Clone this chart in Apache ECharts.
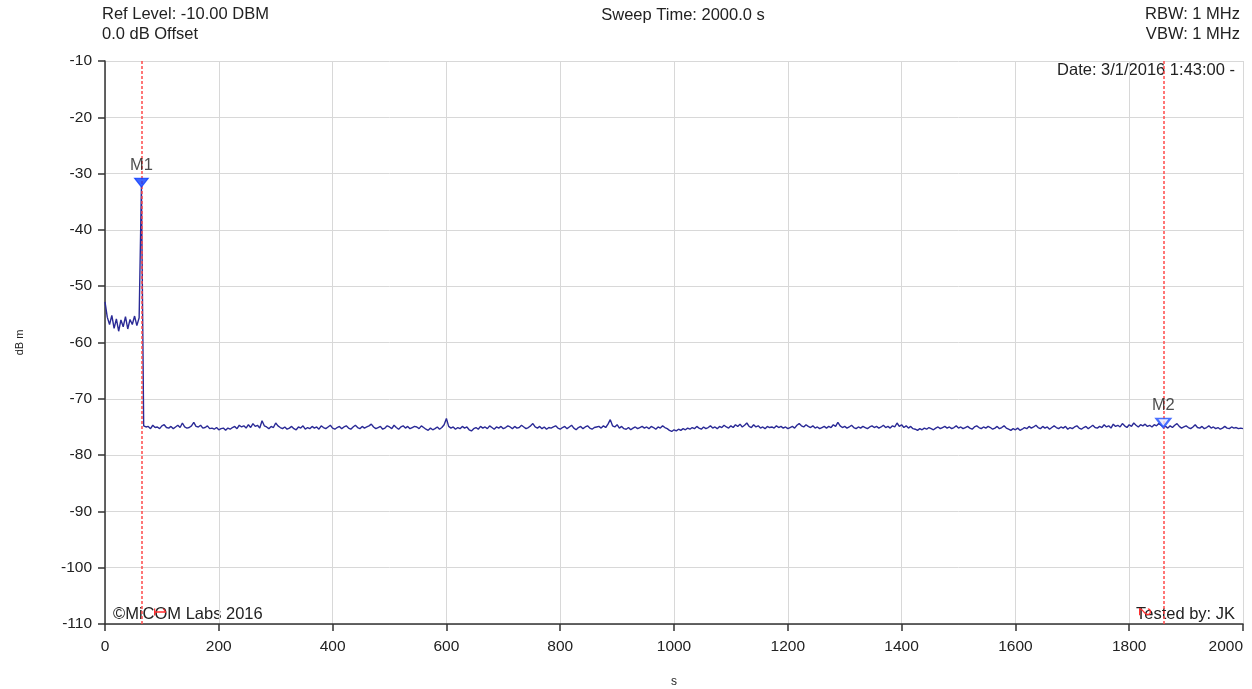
<!DOCTYPE html>
<html>
<head>
<meta charset="utf-8">
<script src="https://cdn.jsdelivr.net/npm/echarts@6/dist/echarts.min.js"></script>
<style>
html,body{margin:0;padding:0;background:#fff;overflow:hidden;}
#chart{width:1252px;height:689px;}
</style>
</head>
<body>
<div id="chart"></div>
<script>
// ---- data ----
const sweepTime = 2000;          // s
const stepSeconds = 4;           // sweep sample spacing (501 points)
const xTicks = [0,200,400,600,800,1000,1200,1400,1600,1800,2000];
const yTicks = [-10,-20,-30,-40,-50,-60,-70,-80,-90,-100,-110];

// trace level (dBm), one value per sweep point
const preSpike = [-52.8,-55.5,-56.8,-55.2,-57.5,-55.8,-58.0,-56.0,-57.2,-55.4,-57.6,-55.9,-56.8,-55.3,-57.0,-55.6];
const spike = [-32.3];
const floorLevels = [
-74.8,-75.0,-74.9,-75.3,-74.7,-75.1,-75.0,-75.3,-74.8,-74.6,-75.1,-75.2,-74.9,-75.3,-75.0,-74.7,-75.1,-74.3,-75.0,-75.2,
-75.1,-74.8,-74.2,-74.9,-75.0,-74.7,-75.2,-75.1,-74.8,-75.3,-75.2,-75.4,-75.1,-75.5,-75.3,-75.2,-75.6,-75.2,-75.4,-75.1,
-74.9,-75.3,-74.7,-75.0,-74.8,-75.2,-74.6,-75.1,-74.4,-74.9,-74.7,-75.2,-73.9,-74.8,-75.0,-75.3,-74.9,-75.1,-74.3,-74.8,
-75.1,-75.3,-75.0,-75.4,-75.2,-74.9,-75.3,-75.5,-75.0,-75.2,-74.8,-75.4,-75.1,-75.3,-74.9,-75.2,-75.0,-75.4,-74.8,-75.1,
-75.3,-75.0,-74.7,-75.2,-75.4,-75.1,-74.9,-75.3,-75.0,-74.8,-75.2,-75.4,-75.0,-74.7,-75.1,-75.3,-74.9,-75.2,-75.0,-74.8,
-74.5,-75.0,-75.3,-75.1,-74.9,-75.4,-75.2,-74.8,-75.0,-75.3,-74.7,-75.1,-75.4,-75.0,-74.8,-75.2,-74.9,-75.3,-75.1,-74.9,
-75.0,-75.3,-74.8,-75.1,-75.4,-75.6,-75.2,-75.5,-75.3,-75.0,-75.4,-75.1,-74.6,-73.5,-74.9,-75.2,-75.0,-75.4,-75.1,-75.3,
-74.9,-75.2,-75.0,-75.5,-75.7,-75.3,-75.1,-75.4,-74.9,-75.2,-75.0,-75.3,-74.8,-75.1,-75.4,-75.0,-75.2,-74.9,-75.3,-75.1,
-74.8,-75.0,-75.3,-74.9,-75.2,-75.1,-74.7,-75.0,-75.3,-75.1,-74.8,-74.4,-75.0,-75.2,-74.9,-75.3,-75.0,-75.4,-75.1,-75.2,
-75.0,-74.8,-75.2,-75.4,-75.1,-74.9,-75.3,-75.0,-74.7,-75.2,-75.5,-75.1,-74.9,-75.3,-75.0,-74.8,-75.2,-75.4,-75.1,-75.0,
-74.9,-75.2,-74.8,-75.1,-74.5,-73.7,-74.8,-75.0,-74.6,-75.2,-74.9,-75.3,-75.4,-75.1,-75.5,-75.2,-75.0,-75.3,-75.1,-74.9,
-75.2,-75.0,-75.3,-74.9,-75.1,-75.4,-75.0,-75.2,-74.8,-75.1,-75.3,-75.6,-75.8,-75.5,-75.7,-75.4,-75.6,-75.3,-75.5,-75.2,
-75.4,-75.1,-75.3,-74.9,-75.2,-75.4,-75.0,-75.3,-75.1,-74.8,-75.2,-75.0,-75.3,-74.9,-75.1,-74.7,-75.0,-75.2,-74.8,-75.1,
-74.6,-74.9,-74.5,-75.0,-74.7,-74.3,-74.9,-75.1,-74.6,-75.0,-74.8,-75.2,-75.0,-75.3,-74.9,-75.1,-75.0,-75.2,-74.8,-75.1,
-74.9,-75.2,-75.0,-75.3,-75.1,-74.9,-75.2,-74.7,-74.4,-74.8,-75.0,-74.6,-74.9,-75.1,-74.8,-75.2,-75.0,-75.3,-75.1,-74.9,
-75.2,-74.9,-75.1,-74.6,-74.9,-74.2,-74.8,-75.1,-74.9,-75.2,-75.0,-74.7,-75.1,-75.3,-75.0,-75.2,-74.9,-75.1,-75.3,-75.0,
-74.8,-75.1,-74.9,-75.2,-75.0,-74.7,-75.1,-74.9,-75.2,-74.8,-75.0,-74.3,-74.9,-74.6,-75.1,-74.8,-75.2,-74.9,-75.3,-75.4,
-75.6,-75.3,-75.5,-75.2,-75.4,-75.1,-75.3,-75.5,-75.2,-75.0,-75.3,-75.1,-74.9,-75.2,-75.0,-75.3,-75.1,-74.8,-75.2,-75.0,
-75.3,-75.1,-74.9,-75.2,-75.4,-75.0,-74.8,-75.1,-75.3,-75.0,-75.2,-74.9,-75.1,-75.4,-75.2,-74.9,-75.3,-75.1,-74.8,-75.2,
-75.4,-75.6,-75.3,-75.5,-75.2,-75.6,-75.4,-75.1,-75.3,-74.9,-75.2,-75.0,-74.7,-75.1,-75.3,-74.9,-75.2,-75.0,-75.4,-75.1,
-74.8,-75.1,-75.3,-75.0,-75.2,-74.9,-75.4,-75.1,-75.3,-75.0,-74.8,-75.2,-75.4,-75.1,-74.9,-75.3,-75.0,-74.7,-75.1,-75.2,
-74.9,-75.1,-74.6,-75.0,-74.8,-75.2,-74.5,-74.9,-74.7,-75.0,-74.4,-74.8,-75.1,-74.6,-74.9,-74.3,-74.7,-75.0,-74.6,-74.8,
-74.5,-74.9,-74.7,-75.0,-74.6,-74.8,-74.4,-74.7,-75.0,-74.9,-75.2,-74.8,-75.1,-74.7,-74.4,-74.9,-75.2,-75.0,-74.8,-75.1,
-75.3,-75.0,-74.6,-75.1,-75.2,-74.9,-75.3,-75.1,-74.8,-75.2,-75.0,-75.3,-75.1,-75.4,-75.2,-74.9,-75.2,-75.3,-75.0,-75.2,
-75.1,-75.3,-75.2,-75.3
];

// markers
const markerNames = ['M1','M2'];
const markerTimes = [64, 1860];
const markerValues = [-32.3, -75.0];
const markerLineLabels = ['1','2'];

// header / footer texts
const refLevelText = 'Ref Level: -10.00 DBM';
const offsetText = '0.0 dB Offset';
const sweepText = 'Sweep Time: 2000.0 s';
const rbwText = 'RBW: 1 MHz';
const vbwText = 'VBW: 1 MHz';
const dateText = 'Date: 3/1/2016 1:43:00 -';
const copyrightText = '\u00A9MiCOM Labs 2016';
const testedText = 'Tested by: JK';

// ---- build ----
const levels = preSpike.concat(spike, floorLevels);
const trace = levels.map((v, i) => [i * stepSeconds, v]);
const FONT = '"Liberation Sans", Arial, sans-serif';
const TXT = '16.5px ' + FONT;

const chart = echarts.init(document.getElementById('chart'), null, {renderer: 'canvas'});

const option = {
  animation: false,
  backgroundColor: '#ffffff',
  grid: {left: 105, right: 9, top: 61, bottom: 65, containLabel: false, outerBoundsMode: 'none'},
  xAxis: {
    type: 'value', min: 0, max: sweepTime, interval: 200,
    name: 's', nameLocation: 'middle', nameGap: 52,
    nameTextStyle: {fontFamily: FONT, fontSize: 12, color: '#222'},
    axisLine: {show: true, onZero: false, lineStyle: {color: '#333', width: 1.5}},
    axisTick: {show: true, length: 7, lineStyle: {color: '#333', width: 1.5}},
    axisLabel: {fontFamily: FONT, fontSize: 15.5, color: '#222', margin: 15, alignMaxLabel: 'right',
      formatter: v => xTicks.includes(v) ? String(v) : ''},
    splitLine: {show: true, lineStyle: {color: '#d8d8d8', width: 1}}
  },
  yAxis: {
    type: 'value', min: -110, max: -10, interval: 10,
    name: 'dB m', nameLocation: 'middle', nameRotate: 90, nameGap: 80,
    nameTextStyle: {fontFamily: FONT, fontSize: 11, color: '#222'},
    axisLine: {show: true, onZero: false, lineStyle: {color: '#333', width: 1.5}},
    axisTick: {show: true, length: 7, lineStyle: {color: '#333', width: 1.5}},
    axisLabel: {fontFamily: FONT, fontSize: 15.5, color: '#222', margin: 13,
      formatter: v => yTicks.includes(v) ? String(v) : ''},
    splitLine: {show: true, lineStyle: {color: '#d8d8d8', width: 1}}
  },
  series: [
    {
      type: 'line',
      data: trace,
      showSymbol: false,
      symbol: 'none',
      lineStyle: {color: '#2a2a96', width: 1.4},
      z: 3,
      markLine: {
        silent: true,
        symbol: ['none', 'none'],
        label: {show: false},
        emphasis: {disabled: true},
        lineStyle: {color: '#ff4a4a', type: [3, 2], width: 1.5, opacity: 1},
        data: markerTimes.map(t => ({xAxis: t}))
      }
    },
    {
      type: 'scatter',
      data: markerTimes.map((t, i) => ({
        value: [t, markerValues[i]],
        name: markerNames[i],
        itemStyle: i === 0
          ? {color: '#0d3dff', borderColor: '#0d3dff', borderWidth: 1}
          : {color: '#e4eaff', borderColor: '#1e4cff', borderWidth: 2}
      })),
      symbol: 'triangle',
      symbolRotate: 180,
      symbolSize: [14, 9],
      symbolOffset: [0, -4],
      z: 5,
      label: {
        show: true, position: 'top', distance: 4,
        formatter: p => p.name,
        fontFamily: FONT, fontSize: 16.5, color: '#222'
      }
    }
  ],
  graphic: [
    {type: 'text', x: 102, y: 6, style: {text: refLevelText, font: TXT, fill: '#222', align: 'left', verticalAlign: 'top'}},
    {type: 'text', x: 102, y: 26, style: {text: offsetText, font: TXT, fill: '#222', align: 'left', verticalAlign: 'top'}},
    {type: 'text', x: 683, y: 7, style: {text: sweepText, font: TXT, fill: '#222', align: 'center', verticalAlign: 'top'}},
    {type: 'text', x: 1240, y: 6, style: {text: rbwText, font: TXT, fill: '#222', align: 'right', verticalAlign: 'top'}},
    {type: 'text', x: 1240, y: 26, style: {text: vbwText, font: TXT, fill: '#222', align: 'right', verticalAlign: 'top'}},
    {type: 'text', x: 1235, y: 62, style: {text: dateText, font: TXT, fill: '#222', align: 'right', verticalAlign: 'top'}},
    {type: 'text', x: 113, y: 606, style: {text: copyrightText, font: TXT, fill: '#222', align: 'left', verticalAlign: 'top'}},
    {type: 'text', x: 1235, y: 606, style: {text: testedText, font: TXT, fill: '#222', align: 'right', verticalAlign: 'top'}}
  ]
};

chart.setOption(option);

// small red marker-line tags near the bottom, placed via the axis scale
const tagOffsets = [17, -20];
const tags = markerTimes.map((t, i) => {
  const p = chart.convertToPixel({xAxisIndex: 0, yAxisIndex: 0}, [t, -107.8]);
  return {
    type: 'text', x: p[0] + tagOffsets[i], y: p[1], rotation: -Math.PI / 2,
    style: {text: markerLineLabels[i], font: '16px ' + FONT, fill: '#ff3030', align: 'center', verticalAlign: 'middle'},
    z: 10
  };
});
chart.setOption({graphic: option.graphic.concat(tags)});
</script>
</body>
</html>
